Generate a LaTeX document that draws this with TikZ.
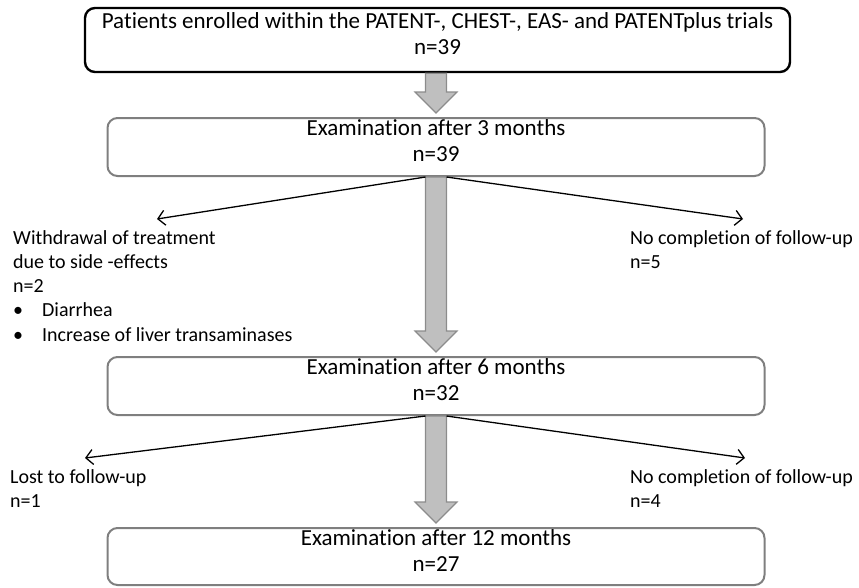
\documentclass[tikz,border=0pt]{standalone}
\usepackage{fontspec}
\setmainfont[RawFeature={-liga}]{Carlito}
\usetikzlibrary{calc,
	positioning,
	arrows.meta}
\definecolor{boxgray}{HTML}{7F7F7F}
\definecolor{arrfill}{HTML}{BFBFBF}
\definecolor{arredge}{HTML}{8C8C8C}
\tikzstyle{first}=[draw=black, line width=2.4pt, rounded corners=10pt, minimum width=705pt,
		minimum height=64pt, align=center, inner sep=0, font=\fontsize{23}{24.3}\selectfont]
\tikzstyle{stage}=[draw=boxgray, line width=2pt, rounded corners=10pt, minimum width=657pt,
		minimum height=58pt, align=center, inner sep=0, font=\fontsize{23}{24.3}\selectfont]
\tikzstyle{bigarrow}=[fill=arrfill, draw=arredge, line width=1.2pt, line join=miter]
\tikzstyle{thin}=[draw=black, line width=1.3pt, -{Straight Barb[length=7pt,width=15pt]}]
\tikzstyle{note}=[anchor=north west, align=left, inner sep=0, font=\fontsize{20}{24.3}\selectfont]
\newcommand{\flowarrow}[2]{%
	\draw[bigarrow] ($(#1.south -| #2.north)+(-10.5,0)$) -- ($(#2.north)+(-10.5,-25)$) -- ++(-10.5,0)
		-- ($(#2.north)+(0,-4)$) -- ($(#2.north)+(21,-25)$) -- ++(-10.5,0)
		-- ($(#1.south -| #2.north)+(10.5,0)$) -- cycle;}
\newcommand{\bul}{\makebox[29pt][l]{\textbullet}}

\begin{document}
\begin{tikzpicture}[x=1pt, y=-1pt]
	\useasboundingbox (0,0) rectangle (859,587);
	\node[first] (enrol) at (437.5,40) {Patients enrolled within the PATENT-, CHEST-, EAS- and PATENTplus trials\\[2pt]n=39\\[-12pt]};
	\node[stage] (m3) at (436,147) {Examination after 3 months\\[2pt]n=39\\[-12pt]};
	\node[stage] (m6) at (436,386) {Examination after 6 months\\[2pt]n=32\\[-12pt]};
	\node[stage, minimum height=57pt] (m12) at (436,556.5) {Examination after 12 months\\[2pt]n=27\\[-12pt]};

	\flowarrow{enrol}{m3}
	\flowarrow{m3}{m6}
	\flowarrow{m6}{m12}

	\coordinate (wd) at (157,219);
	\coordinate (nc1) at (743,219);
	\coordinate (lost) at (85,458);
	\coordinate (nc2) at (745,458);
	\draw[thin] ($(m3.south)+(-10.5,0)$) -- (wd);
	\draw[thin] ($(m3.south)+(10.5,0)$) -- (nc1);
	\draw[thin] ($(m6.south)+(-10.5,0)$) -- (lost);
	\draw[thin] ($(m6.south)+(10.5,0)$) -- (nc2);

	\node[note] (wdtxt) at (13,230) {Withdrawal of treatment\\due to side -effects\\n=2\\\bul Diarrhea\\\bul Increase of liver transaminases};
	\node[note] (nc1txt) at (630,230) {No completion of follow-up\\n=5};
	\node[note] (losttxt) at (10,469) {Lost to follow-up\\n=1};
	\node[note] (nc2txt) at (630,469) {No completion of follow-up\\n=4};
\end{tikzpicture}
\end{document}
